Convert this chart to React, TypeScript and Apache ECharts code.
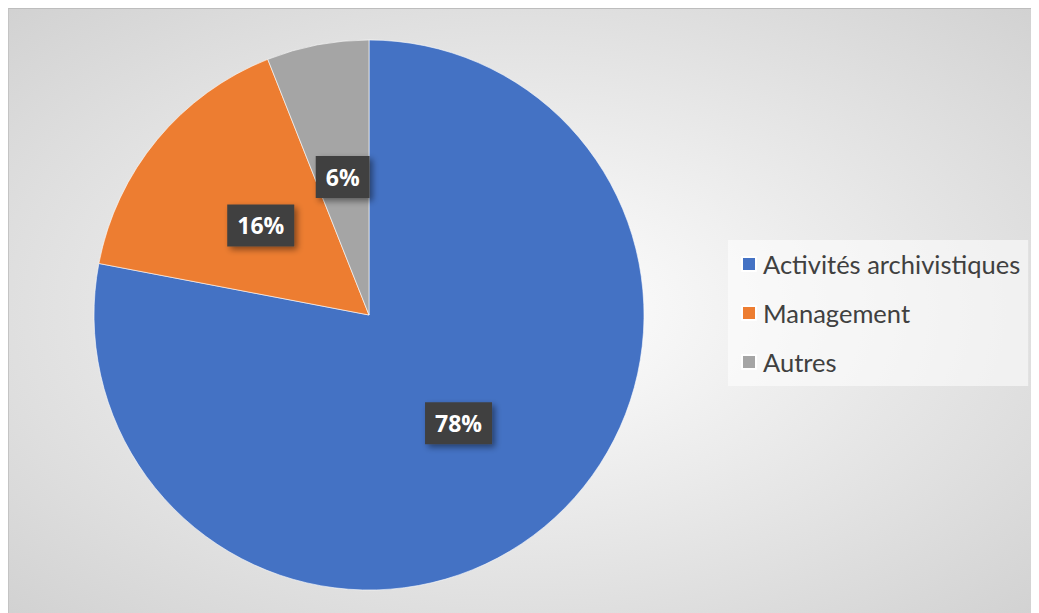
import React, { useEffect, useRef } from "react";
import * as echarts from "echarts";

const categories = ["Activités archivistiques", "Management", "Autres"];
const values = [78, 16, 6];
const colors = ["#4472C4", "#ED7D31", "#A5A5A5"];

export default function App() {
  const ref = useRef<HTMLDivElement>(null);
  useEffect(() => {
    if (!ref.current) return;
    const chart = echarts.init(ref.current, undefined, { renderer: "svg" });
    chart.setOption({
      animation: false,
      backgroundColor: {
        type: "radial",
        x: 0.5,
        y: 0.5,
        r: 1,
        colorStops: [
          { offset: 0, color: "#ffffff" },
          { offset: 1, color: "#bfbfbf" },
        ],
      },
      legend: {
        orient: "vertical",
        left: 719,
        top: 231,
        itemWidth: 14,
        itemHeight: 14,
        itemGap: 23,
        icon: "rect",
        padding: [11, 8, 11, 13],
        backgroundColor: "rgba(255,255,255,0.55)",
        textStyle: { fontFamily: "Lato", fontSize: 25.5, color: "#404040", padding: [0, 0, 0, 2] },
        data: categories,
      },
      series: [
        {
          type: "pie",
          center: [360, 306],
          radius: [0, 275],
          startAngle: 90,
          clockwise: true,
          data: categories.map((c, i) => ({
            name: c,
            value: values[i],
            itemStyle: { color: colors[i] },
          })),
          itemStyle: { borderColor: "#ffffff", borderWidth: 0.6 },
          label: {
            position: "inside",
            formatter: (p: any) => `${p.value}%`,
            color: "#ffffff",
            fontFamily: "Open Sans",
            fontWeight: "bold",
            fontSize: 23,
            lineHeight: 30,
            backgroundColor: "#404040",
            padding: [6, 10],
            shadowColor: "rgba(0,0,0,0.45)",
            shadowBlur: 6,
            shadowOffsetX: 3,
            shadowOffsetY: 3,
          },
          labelLine: { show: false },
          emphasis: { disabled: true },
        },
      ],
    });
    return () => chart.dispose();
  }, []);
  return (
    <div
      ref={ref}
      style={{ width: 1031, height: 605, borderTop: "1px solid #bdbdbd", borderLeft: "1px solid #c4c4c4", boxSizing: "border-box" }}
    />
  );
}
